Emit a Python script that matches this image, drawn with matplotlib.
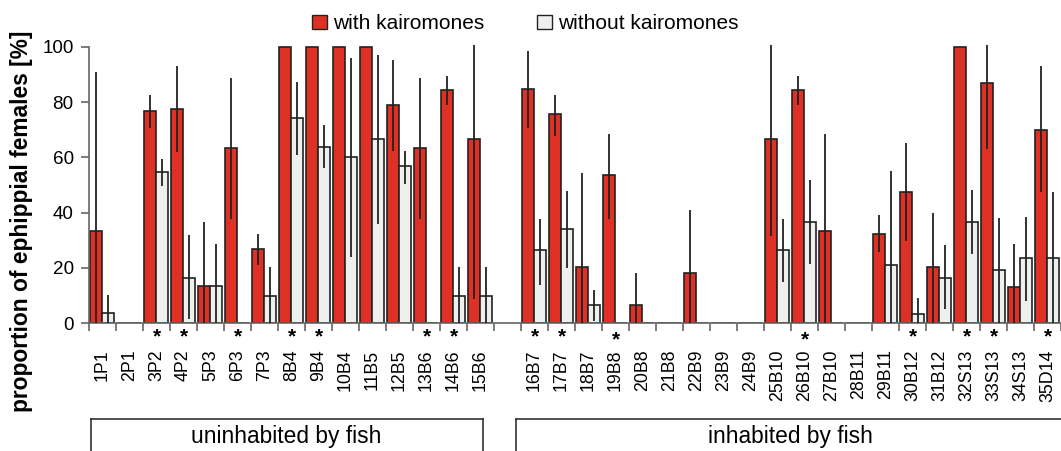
"""
Ephippial females per pond, with and without fish kairomones
Grouped bar chart with error lines, significance stars and pond-type boxes
"""

import matplotlib
matplotlib.use('Agg')
import matplotlib.pyplot as plt
from matplotlib.lines import Line2D

plt.rcParams['font.family'] = ['Liberation Sans', 'DejaVu Sans']

# ========================================
# DATA
# ========================================

ponds_no_fish = ['1P1', '2P1', '3P2', '4P2', '5P3', '6P3', '7P3', '8B4', '9B4',
                 '10B4', '11B5', '12B5', '13B6', '14B6', '15B6']
ponds_fish = ['16B7', '17B7', '18B7', '19B8', '20B8', '21B8', '22B9', '23B9',
              '24B9', '25B10', '26B10', '27B10', '28B11', '29B11', '30B12',
              '31B12', '32S13', '33S13', '34S13', '35D14']

# with kairomones: mean, lower and upper end of the error line
with_k = [33.3, 0, 76.7, 77.5, 13.3, 63.3, 26.7, 100, 100, 100, 100, 78.9, 63.3, 84.4, 66.7,
          84.8, 75.6, 20.2, 53.5, 6.4, 0, 18.1, 0, 0, 66.7, 84.4, 33.3, 0, 32.4, 47.3,
          20.2, 100, 87.0, 13.0, 70.0]
with_lo = [0, 0, 70.7, 61.8, 0, 37.8, 20.9, 100, 100, 100, 100, 62.2, 37.8, 79.1, 8.7,
           70.7, 67.9, 0, 37.8, 0, 0, 0, 0, 0, 31.4, 79.1, 0, 0, 25.6, 29.8,
           0, 100, 63.2, 0, 47.3]
with_hi = [90.8, 0, 82.6, 93.0, 36.6, 88.8, 32.4, 100, 100, 100, 100, 95.2, 88.8, 89.6, 102,
           98.4, 82.5, 54.3, 68.5, 18.1, 0, 41.1, 0, 0, 102, 89.6, 68.5, 0, 39.0, 65.2,
           39.9, 100, 102, 28.6, 93.0]

# without kairomones
without_k = [3.7, 0, 54.7, 16.3, 13.3, 0, 9.7, 74.2, 63.8, 60.0, 66.7, 56.8, 0, 9.7, 9.7,
             26.3, 34.2, 6.4, 0, 0, 0, 0, 0, 0, 26.6, 36.6, 0, 0, 21.1, 3.3,
             16.3, 36.6, 19.3, 23.4, 23.4]
without_lo = [0, 0, 49.5, 1.5, 0, 0, 0, 60.7, 56.2, 23.8, 36.0, 50.5, 0, 0, 0,
              13.9, 19.9, 0.8, 0, 0, 0, 0, 0, 0, 14.9, 21.4, 0, 0, 0, 0,
              5.1, 25.1, 0, 7.9, 0]
without_hi = [10.3, 0, 59.5, 31.8, 28.6, 0, 20.2, 87.3, 71.6, 96.0, 97.2, 62.2, 0, 20.2, 20.2,
              37.8, 47.7, 12.1, 0, 0, 0, 0, 0, 0, 37.8, 51.9, 0, 0, 55.0, 9.1,
              28.1, 48.3, 38.0, 38.4, 47.5]

# ponds with a significant difference
significant = ['3P2', '4P2', '6P3', '8B4', '9B4', '13B6', '14B6', '16B7', '17B7',
               '19B8', '26B10', '30B12', '32S13', '33S13', '35D14']

y_ticks = [0, 20, 40, 60, 80, 100]

# ========================================
# PLOT
# ========================================

red = '#dc3124'
light = '#eef0ee'
dark = '#222222'
axis_gray = '#666666'

names = ponds_no_fish + ponds_fish
# one empty slot between the two pond groups
pos = list(range(len(ponds_no_fish))) + [len(ponds_no_fish) + 1 + i for i in range(len(ponds_fish))]

fig = plt.figure(figsize=(10.61, 4.51), dpi=100)
ax = fig.add_axes([0.0839, 0.2838, 0.9161, 0.6175])

w = 0.45
x_red = [p - 0.25 for p in pos]
x_white = [p + 0.2 for p in pos]

ax.bar(x_red, with_k, width=w, color=red, edgecolor=dark, linewidth=1.2, zorder=2)
ax.bar(x_white, without_k, width=w, color=light, edgecolor=dark, linewidth=1.2, zorder=2)

# error lines, no caps
ax.vlines(x_red, with_lo, with_hi, color=dark, linewidth=1.3, zorder=3)
ax.vlines(x_white, without_lo, without_hi, color=dark, linewidth=1.3, zorder=3)

# axes styling
ax.set_xlim(-0.5, 35.37)
ax.set_ylim(0, 100.9)
ax.spines['top'].set_visible(False)
ax.spines['right'].set_visible(False)
ax.spines['left'].set_bounds(0, 100)
for s in ['left', 'bottom']:
    ax.spines[s].set_color(axis_gray)
    ax.spines[s].set_linewidth(1.2)

ax.set_yticks(y_ticks)
ax.tick_params(axis='y', length=6, width=1.2, color=axis_gray, pad=5, labelsize=13.6)

# pond names at slot centres, tick marks at slot borders
ax.set_xticks(pos)
ax.set_xticklabels(names, rotation=90, fontsize=12.8)
ax.tick_params(axis='x', which='major', length=0, pad=19)
ax.set_xticks([b - 0.5 for b in range(37)], minor=True)
ax.tick_params(axis='x', which='minor', length=6, width=1.2, color=axis_gray)

# significance stars under the axis
for name, p in zip(names, pos):
    if name in significant:
        dy = -17 if name in ('19B8', '26B10') else -14
        ax.annotate('*', xy=(p, 0), xytext=(0, dy), textcoords='offset pixels',
                    ha='center', va='center', fontsize=15, fontweight='bold',
                    annotation_clip=False)

fig.text(0.02, 0.51, 'proportion of ephippial females [%]', rotation=90,
         ha='center', va='center', fontsize=16.4, fontweight='bold')

# legend
h1 = plt.Rectangle((0, 0), 1, 1, facecolor=red, edgecolor=dark, linewidth=1.0)
h2 = plt.Rectangle((0, 0), 1, 1, facecolor=light, edgecolor=dark, linewidth=1.0)
fig.legend([h1, h2], ['with kairomones', 'without kairomones'], loc='upper center',
           bbox_to_anchor=(0.495, 1.01), ncol=2, frameon=False, fontsize=15,
           handlelength=0.72, handleheight=0.72, handletextpad=0.3,
           columnspacing=2.5)

# group boxes below the labels (pixel positions turned into figure fractions)
W, H = 1061.0, 451.0
box_top = 1 - 419 / H
for x0, x1 in [(91, 483), (516, 1070)]:
    fig.add_artist(Line2D([x0 / W, x0 / W], [0, box_top], color='#333333', linewidth=1.2))
    fig.add_artist(Line2D([x0 / W, x1 / W], [box_top, box_top], color='#333333', linewidth=1.2))
    fig.add_artist(Line2D([x1 / W, x1 / W], [0, box_top], color='#333333', linewidth=1.2))
fig.text(286 / W, 1 - 443 / H, 'uninhabited by fish', ha='center', va='baseline', fontsize=16.4)
fig.text(790 / W, 1 - 443 / H, 'inhabited by fish', ha='center', va='baseline', fontsize=16.4)

fig.savefig('out.png', dpi=100)
